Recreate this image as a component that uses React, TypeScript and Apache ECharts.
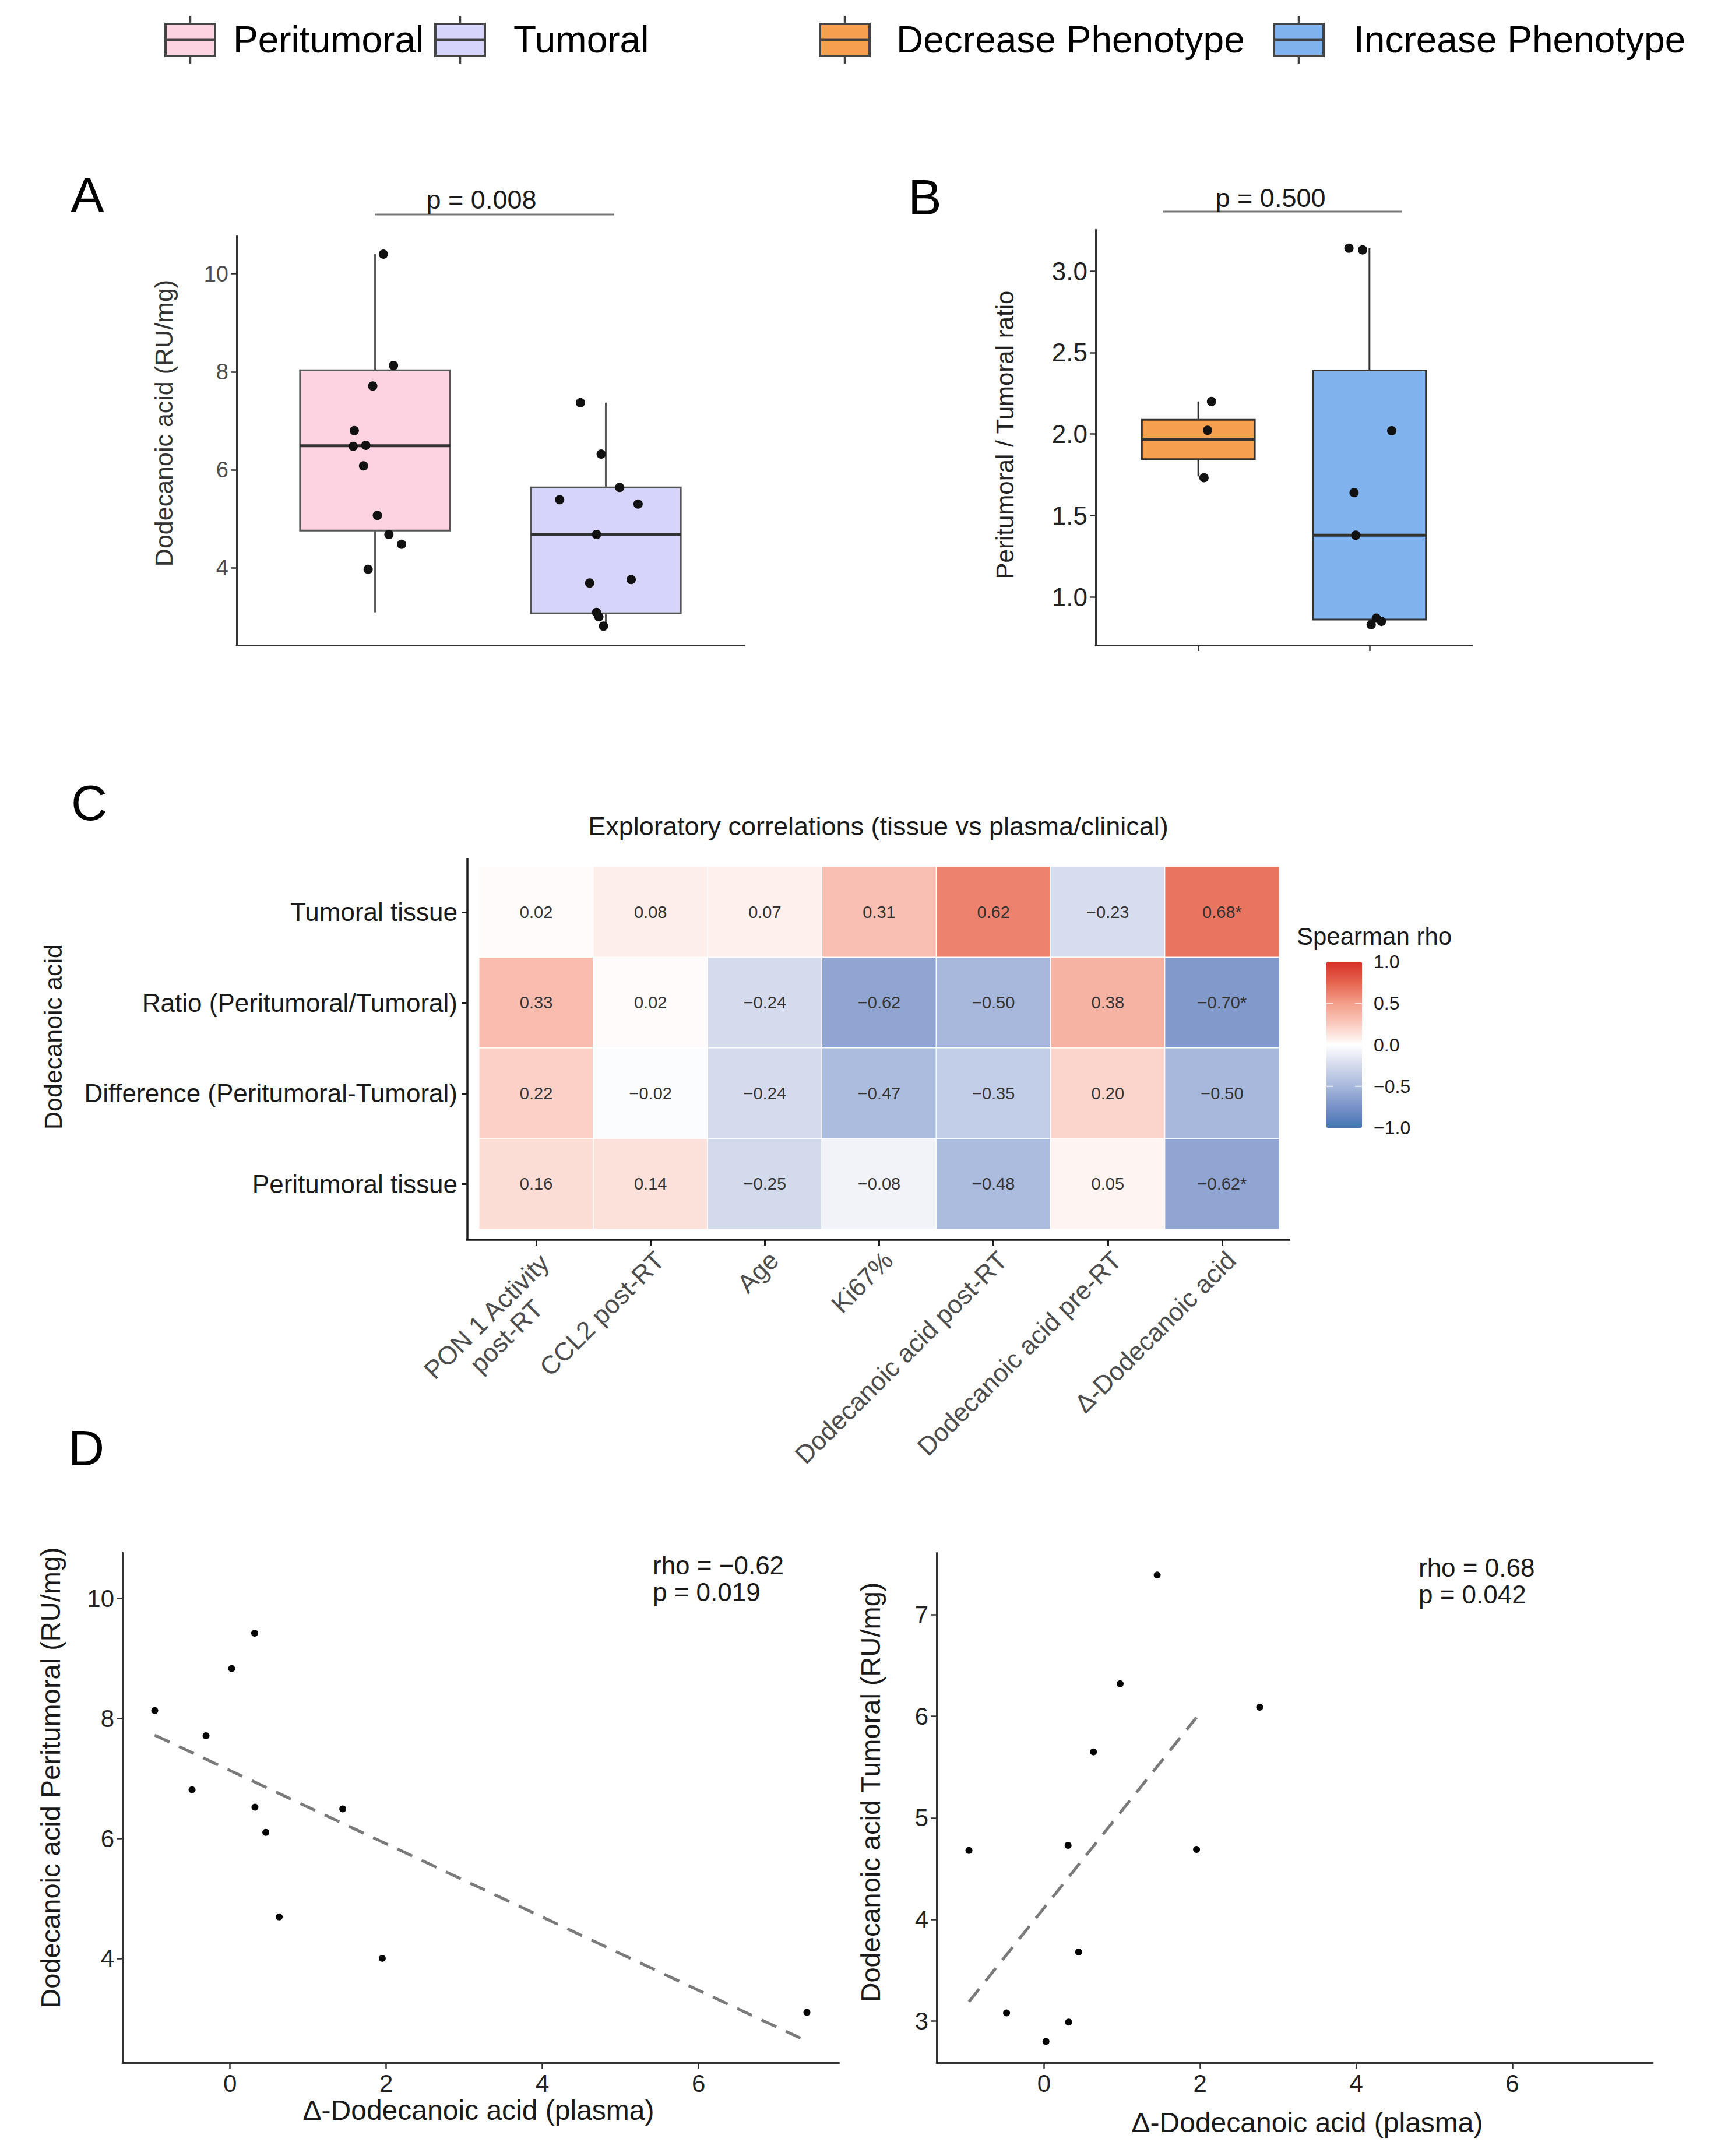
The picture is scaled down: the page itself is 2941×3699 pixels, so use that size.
import React, { useEffect, useRef } from 'react';
import * as echarts from 'echarts';

const FONT = '"Liberation Sans", Arial, Helvetica, sans-serif';
const f = (s: number) => `${s}px ${FONT}`;

// ---------- Legend ----------
const legendLabels = ['Peritumoral', 'Tumoral', 'Decrease Phenotype', 'Increase Phenotype'];
const legendFills = ['#FDD3E2', '#D6D4FA', '#F4A04E', '#80B3EE'];

// ---------- Panel A ----------
const groupsA = ['Peritumoral', 'Tumoral'];
const boxA = [
  [3.09, 4.76, 6.49, 8.03, 10.4],
  [2.81, 3.07, 4.68, 5.64, 7.37],
];
const periJitterX = [1.036, 1.08, 0.99, 0.91, 0.905, 0.96, 0.95, 1.01, 1.06, 1.115, 0.97];
const periValues = [10.4, 8.13, 7.71, 6.8, 6.48, 6.5, 6.08, 5.07, 4.68, 4.48, 3.97];
const tumJitterX = [1.89, 1.98, 2.06, 1.8, 2.14, 1.96, 1.93, 2.11, 1.96, 1.97, 1.99];
const tumValues = [7.37, 6.32, 5.64, 5.39, 5.3, 4.68, 3.69, 3.76, 3.09, 3.0, 2.81];
const ticksA = [4, 6, 8, 10];
const pA = 'p = 0.008';

// ---------- Panel B ----------
const groupsB = ['Decrease Phenotype', 'Increase Phenotype'];
const boxB = [
  [1.74, 1.846, 1.968, 2.087, 2.2],
  [0.83, 0.861, 1.379, 2.39, 3.14],
];
const decJitterX = [1.077, 1.054, 1.033];
const decValues = [2.2, 2.023, 1.732];
const incJitterX = [1.88, 1.96, 2.13, 1.91, 1.92, 2.04, 2.01, 2.07];
const incValues = [3.14, 3.13, 2.02, 1.64, 1.379, 0.87, 0.83, 0.85];
const ticksB = [1.0, 1.5, 2.0, 2.5, 3.0];
const pB = 'p = 0.500';

// ---------- Panel C ----------
const heatCols = [
  'PON 1 Activity\npost-RT',
  'CCL2 post-RT',
  'Age',
  'Ki67%',
  'Dodecanoic acid post-RT',
  'Dodecanoic acid pre-RT',
  'Δ-Dodecanoic acid',
];
const heatRows = [
  'Tumoral tissue',
  'Ratio (Peritumoral/Tumoral)',
  'Difference (Peritumoral-Tumoral)',
  'Peritumoral tissue',
];
const rhoTumoral = [0.02, 0.08, 0.07, 0.31, 0.62, -0.23, 0.68];
const rhoRatio = [0.33, 0.02, -0.24, -0.62, -0.5, 0.38, -0.7];
const rhoDifference = [0.22, -0.02, -0.24, -0.47, -0.35, 0.2, -0.5];
const rhoPeritumoral = [0.16, 0.14, -0.25, -0.08, -0.48, 0.05, -0.62];
const sigTumoral = [0, 0, 0, 0, 0, 0, 1];
const sigRatio = [0, 0, 0, 0, 0, 0, 1];
const sigDifference = [0, 0, 0, 0, 0, 0, 0];
const sigPeritumoral = [0, 0, 0, 0, 0, 0, 1];
const colorbarTicks = [1.0, 0.5, 0.0, -0.5, -1.0];
const heatPalette = ['#4575B4', '#7891C7', '#A7B8DC', '#D3DAEC', '#FFFFFF', '#FACABE', '#F39E8B', '#E5644F', '#D73027'];

// ---------- Panel D ----------
const dLeftX = [-0.963, -0.306, -0.485, 0.022, 0.316, 0.32, 0.459, 1.444, 0.63, 1.95, 7.386];
const dLeftY = [8.13, 7.71, 6.81, 8.83, 9.42, 6.52, 6.1, 6.49, 4.69, 4.0, 3.1];
const dLeftFitX = [-0.963, 7.386];
const dLeftFitY = [7.72, 2.62];
const dRightX = [-0.962, 1.45, 0.975, 2.763, 0.634, 0.308, 1.954, 0.443, -0.48, 0.315, 0.025];
const dRightY = [4.68, 7.39, 6.32, 6.09, 5.65, 4.73, 4.69, 3.68, 3.08, 2.99, 2.8];
const dRightFitX = [-0.962, 1.954];
const dRightFitY = [3.19, 5.99];
const ticksDx = [0, 2, 4, 6];
const ticksDLeftY = [4, 6, 8, 10];
const ticksDRightY = [3, 4, 5, 6, 7];
const statLeft = ['rho = \u22120.62', 'p = 0.019'];
const statRight = ['rho = 0.68', 'p = 0.042'];

const fmtRho = (v: number) => (v < 0 ? '\u2212' : '') + Math.abs(v).toFixed(2);

export default function App() {
  const ref = useRef<HTMLDivElement>(null);

  useEffect(() => {
    document.body.style.margin = '0';
    if (!ref.current) return;
    const chart = echarts.init(ref.current, null, { renderer: 'svg' });

    const makeBox = (fills: string[], stroke: string, median: string, hw: number) =>
      (params: any, api: any) => {
        const x = api.value(0);
        const lo = api.value(1), q1 = api.value(2), med = api.value(3), q3 = api.value(4), hi = api.value(5);
        const tl = api.coord([x - hw, q3]);
        const br = api.coord([x + hw, q1]);
        const pHi = api.coord([x, hi]);
        const pQ3 = api.coord([x, q3]);
        const pQ1 = api.coord([x, q1]);
        const pLo = api.coord([x, lo]);
        const mL = api.coord([x - hw, med]);
        const mR = api.coord([x + hw, med]);
        return {
          type: 'group',
          children: [
            { type: 'line', shape: { x1: pHi[0], y1: pHi[1], x2: pQ3[0], y2: pQ3[1] }, style: { stroke, lineWidth: 3 } },
            { type: 'line', shape: { x1: pQ1[0], y1: pQ1[1], x2: pLo[0], y2: pLo[1] }, style: { stroke, lineWidth: 3 } },
            {
              type: 'rect',
              shape: { x: tl[0], y: tl[1], width: br[0] - tl[0], height: br[1] - tl[1] },
              style: { fill: fills[params.dataIndex], stroke, lineWidth: 3 },
            },
            { type: 'line', shape: { x1: mL[0], y1: mL[1], x2: mR[0], y2: mR[1] }, style: { stroke: median, lineWidth: 5 } },
          ],
        };
      };

    const heatValues = [rhoTumoral, rhoRatio, rhoDifference, rhoPeritumoral];
    const heatSig = [sigTumoral, sigRatio, sigDifference, sigPeritumoral];
    const heatData: number[][] = [];
    heatValues.forEach((row, ri) => row.forEach((v, ci) => heatData.push([ci, ri, v])));

    const valueAxisBase = (gridIndex: number, min: number, max: number, ticks: number[], labelColor: string, fontSize: number, fmt?: (v: number) => string) => ({
      type: 'value',
      gridIndex,
      min,
      max,
      axisLine: { show: true, onZero: false, lineStyle: { color: '#333', width: 3 } },
      axisTick: { show: true, length: 10, customValues: ticks, lineStyle: { color: '#333', width: 2.5 } },
      axisLabel: {
        show: true,
        customValues: ticks,
        color: labelColor,
        fontSize,
        fontFamily: FONT,
        margin: 14,
        formatter: fmt ? (v: number) => fmt(v) : undefined,
      },
      splitLine: { show: false },
    });

    // graphic elements
    const graphics: any[] = [];
    const legIconX = [284, 747, 1407, 2186];
    const legTextX = [400, 881, 1538, 2323];
    legendLabels.forEach((lab, i) => {
      const x0 = legIconX[i];
      const w = 85;
      const cx = x0 + w / 2;
      graphics.push(
        { type: 'line', shape: { x1: cx, y1: 27, x2: cx, y2: 41 }, style: { stroke: '#444', lineWidth: 3.5 } },
        { type: 'line', shape: { x1: cx, y1: 96, x2: cx, y2: 109 }, style: { stroke: '#444', lineWidth: 3.5 } },
        { type: 'rect', shape: { x: x0, y: 41, width: w, height: 55 }, style: { fill: legendFills[i], stroke: '#444', lineWidth: 4 } },
        { type: 'line', shape: { x1: x0, y1: 68.5, x2: x0 + w, y2: 68.5 }, style: { stroke: '#444', lineWidth: 4 } },
        { type: 'text', x: legTextX[i], y: 68, style: { text: lab, font: f(64), fill: '#000', align: 'left', verticalAlign: 'middle', textAlign: 'left', textVerticalAlign: 'middle' } },
      );
    });

    const txt = (text: string, x: number, y: number, size: number, opts: any = {}) => ({
      type: 'text',
      x,
      y,
      rotation: opts.rotation || 0,
      style: {
        text,
        font: f(size),
        fill: opts.fill || '#1a1a1a',
        align: opts.align || 'center',
        verticalAlign: 'middle',
        textAlign: opts.align || 'center',
        textVerticalAlign: 'middle',
      },
    });

    // panel letters
    graphics.push(txt('A', 150, 334, 86, { fill: '#000' }));
    graphics.push(txt('B', 1587, 338, 86, { fill: '#000' }));
    graphics.push(txt('C', 153, 1377, 86, { fill: '#000' }));
    graphics.push(txt('D', 148, 2484, 86, { fill: '#000' }));

    // p-value brackets
    graphics.push({ type: 'line', shape: { x1: 643, y1: 368, x2: 1054, y2: 368 }, style: { stroke: '#777', lineWidth: 3 } });
    graphics.push(txt(pA, 826, 342, 45));
    graphics.push({ type: 'line', shape: { x1: 1995, y1: 363, x2: 2406, y2: 363 }, style: { stroke: '#777', lineWidth: 3 } });
    graphics.push(txt(pB, 2180, 339, 45));

    // axis titles
    graphics.push(txt('Dodecanoic acid (RU/mg)', 281, 726, 43, { rotation: Math.PI / 2, fill: '#333' }));
    graphics.push(txt('Peritumoral / Tumoral ratio', 1724, 746, 42, { rotation: Math.PI / 2, fill: '#222' }));
    graphics.push(txt('Dodecanoic acid', 91, 1779, 43, { rotation: Math.PI / 2, fill: '#1a1a1a' }));
    graphics.push(txt('Exploratory correlations (tissue vs plasma/clinical)', 1507, 1417, 45));
    graphics.push(txt('Dodecanoic acid Peritumoral (RU/mg)', 86, 3050, 47, { rotation: Math.PI / 2 }));
    graphics.push(txt('\u0394-Dodecanoic acid (plasma)', 821, 3620, 48));
    graphics.push(txt('Dodecanoic acid Tumoral (RU/mg)', 1493, 3075, 47, { rotation: Math.PI / 2 }));
    graphics.push(txt('\u0394-Dodecanoic acid (plasma)', 2243, 3641, 48));

    // rho annotations
    graphics.push(txt(statLeft[0], 1120, 2685, 44, { align: 'left' }));
    graphics.push(txt(statLeft[1], 1120, 2731, 44, { align: 'left' }));
    graphics.push(txt(statRight[0], 2434, 2689, 44, { align: 'left' }));
    graphics.push(txt(statRight[1], 2434, 2735, 44, { align: 'left' }));

    // heatmap axis lines
    graphics.push({ type: 'line', shape: { x1: 802, y1: 1472, x2: 802, y2: 2128 }, style: { stroke: '#1a1a1a', lineWidth: 3.5 } });
    graphics.push({ type: 'line', shape: { x1: 800, y1: 2127, x2: 2214, y2: 2127 }, style: { stroke: '#1a1a1a', lineWidth: 3.5 } });

    // colorbar legend
    const cbLeft = 2276, cbTop = 1650, cbW = 61, cbH = 285;
    graphics.push(txt('Spearman rho', 2225, 1606, 42, { align: 'left' }));
    colorbarTicks.forEach((v) => {
      const y = cbTop + ((1 - v) / 2) * cbH;
      graphics.push(txt(v < 0 ? '\u2212' + Math.abs(v).toFixed(1) : v.toFixed(1), 2357, y, 32, { align: 'left' }));
      if (Math.abs(v) < 1) {
        graphics.push({ type: 'line', z: 100, shape: { x1: cbLeft, y1: y, x2: cbLeft + 12, y2: y }, style: { stroke: 'rgba(255,255,255,0.8)', lineWidth: 2 } });
        graphics.push({ type: 'line', z: 100, shape: { x1: cbLeft + cbW - 12, y1: y, x2: cbLeft + cbW, y2: y }, style: { stroke: 'rgba(255,255,255,0.8)', lineWidth: 2 } });
      }
    });

    const option: any = {
      animation: false,
      backgroundColor: '#ffffff',
      textStyle: { fontFamily: FONT },
      grid: [
        { left: 406, top: 405, width: 871, height: 702 },
        { left: 1880, top: 394, width: 646, height: 713 },
        { left: 822, top: 1487, width: 1373, height: 622 },
        { left: 210, top: 2664, width: 1230, height: 875 },
        { left: 1607, top: 2664, width: 1229, height: 875 },
      ],
      xAxis: [
        {
          type: 'value', gridIndex: 0, min: 0.4, max: 2.6,
          axisLine: { show: true, onZero: false, lineStyle: { color: '#333', width: 3 } },
          axisTick: { show: false }, axisLabel: { show: false }, splitLine: { show: false },
        },
        {
          type: 'value', gridIndex: 1, min: 0.4, max: 2.6,
          axisLine: { show: true, onZero: false, lineStyle: { color: '#333', width: 3 } },
          axisTick: { show: true, length: 10, customValues: [1, 2], lineStyle: { color: '#333', width: 2.5 } },
          axisLabel: { show: false }, splitLine: { show: false },
        },
        {
          type: 'category', gridIndex: 2, data: heatCols, offset: 18,
          axisLine: { show: false },
          axisTick: { show: true, alignWithLabel: true, length: 10, lineStyle: { color: '#1a1a1a', width: 3 } },
          axisLabel: {
            rotate: 45,
            interval: 0,
            margin: 12,
            align: 'right',
            verticalAlign: 'top',
            color: '#4d4d4d',
            fontSize: 44,
            fontFamily: FONT,
            formatter: (v: string) => (v.includes('\n') ? v.split('\n').map((s) => `{c|${s}}`).join('\n') : v),
            rich: { c: { width: 290, align: 'center', fontSize: 44, fontFamily: FONT, color: '#4d4d4d', lineHeight: 48 } },
          },
          splitLine: { show: false },
        },
        valueAxisBase(3, -1.377, 7.8, ticksDx, '#222', 42),
        valueAxisBase(4, -1.377, 7.8, ticksDx, '#222', 42),
      ],
      yAxis: [
        valueAxisBase(0, 2.42, 10.77, ticksA, '#4d4d4d', 38),
        valueAxisBase(1, 0.704, 3.254, ticksB, '#222', 44, (v: number) => v.toFixed(1)),
        {
          type: 'category', gridIndex: 2, data: heatRows, inverse: true, offset: 20,
          axisLine: { show: false },
          axisTick: { show: true, alignWithLabel: true, length: 10, lineStyle: { color: '#1a1a1a', width: 3 } },
          axisLabel: { interval: 0, margin: 17, color: '#1a1a1a', fontSize: 44, fontFamily: FONT },
          splitLine: { show: false },
        },
        valueAxisBase(3, 2.26, 10.76, ticksDLeftY, '#222', 42),
        valueAxisBase(4, 2.59, 7.61, ticksDRightY, '#222', 42),
      ],
      visualMap: {
        type: 'continuous',
        seriesIndex: 6,
        dimension: 2,
        min: -1,
        max: 1,
        calculable: false,
        hoverLink: false,
        orient: 'vertical',
        left: cbLeft,
        top: cbTop,
        itemWidth: cbW,
        itemHeight: cbH,
        padding: 0,
        inRange: { color: heatPalette },
      },
      graphic: graphics,
      series: [
        {
          type: 'custom', name: 'A boxes', xAxisIndex: 0, yAxisIndex: 0, z: 2,
          renderItem: makeBox([legendFills[0], legendFills[1]], '#555', '#333', 0.325),
          encode: { x: 0, y: [1, 2, 3, 4, 5] },
          data: boxA.map((s, i) => [i + 1, ...s]),
        },
        {
          type: 'scatter', name: groupsA[0], xAxisIndex: 0, yAxisIndex: 0, z: 3, symbolSize: 16,
          itemStyle: { color: '#111', opacity: 1 },
          data: periValues.map((v, i) => [periJitterX[i], v]),
        },
        {
          type: 'scatter', name: groupsA[1], xAxisIndex: 0, yAxisIndex: 0, z: 3, symbolSize: 16,
          itemStyle: { color: '#111', opacity: 1 },
          data: tumValues.map((v, i) => [tumJitterX[i], v]),
        },
        {
          type: 'custom', name: 'B boxes', xAxisIndex: 1, yAxisIndex: 1, z: 2,
          renderItem: makeBox([legendFills[2], legendFills[3]], '#333', '#333', 0.33),
          encode: { x: 0, y: [1, 2, 3, 4, 5] },
          data: boxB.map((s, i) => [i + 1, ...s]),
        },
        {
          type: 'scatter', name: groupsB[0], xAxisIndex: 1, yAxisIndex: 1, z: 3, symbolSize: 16,
          itemStyle: { color: '#111', opacity: 1 },
          data: decValues.map((v, i) => [decJitterX[i], v]),
        },
        {
          type: 'scatter', name: groupsB[1], xAxisIndex: 1, yAxisIndex: 1, z: 3, symbolSize: 16,
          itemStyle: { color: '#111', opacity: 1 },
          data: incValues.map((v, i) => [incJitterX[i], v]),
        },
        {
          type: 'heatmap', name: 'Spearman rho', xAxisIndex: 2, yAxisIndex: 2,
          data: heatData,
          itemStyle: { borderColor: '#ffffff', borderWidth: 1.5 },
          emphasis: { disabled: true },
          label: {
            show: true,
            fontSize: 29,
            fontFamily: FONT,
            color: '#333',
            formatter: (p: any) => {
              const [c, r, v] = p.value;
              return fmtRho(v) + (heatSig[r][c] ? '*' : '');
            },
          },
        },
        {
          type: 'scatter', name: 'Peritumoral vs plasma', xAxisIndex: 3, yAxisIndex: 3, symbolSize: 12, z: 3,
          itemStyle: { color: '#000', opacity: 1 },
          data: dLeftY.map((v, i) => [dLeftX[i], v]),
        },
        {
          type: 'line', name: 'fit left', xAxisIndex: 3, yAxisIndex: 3, symbol: 'none', z: 2,
          lineStyle: { color: '#7a7a7a', width: 5, type: [28, 18] },
          data: dLeftFitY.map((v, i) => [dLeftFitX[i], v]),
        },
        {
          type: 'scatter', name: 'Tumoral vs plasma', xAxisIndex: 4, yAxisIndex: 4, symbolSize: 12, z: 3,
          itemStyle: { color: '#000', opacity: 1 },
          data: dRightY.map((v, i) => [dRightX[i], v]),
        },
        {
          type: 'line', name: 'fit right', xAxisIndex: 4, yAxisIndex: 4, symbol: 'none', z: 2,
          lineStyle: { color: '#7a7a7a', width: 5, type: [28, 18] },
          data: dRightFitY.map((v, i) => [dRightFitX[i], v]),
        },
      ],
    };

    chart.setOption(option);
    return () => chart.dispose();
  }, []);

  return <div ref={ref} style={{ width: 2941, height: 3699 }} />;
}
